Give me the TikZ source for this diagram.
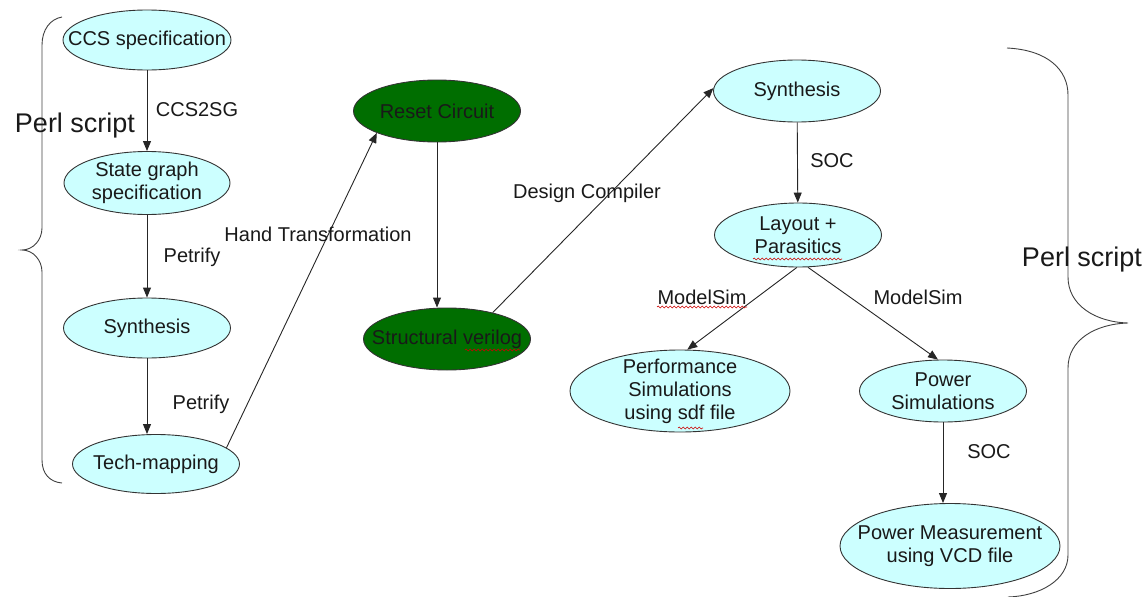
\documentclass[tikz,border=0pt]{standalone}
\usepackage{fontspec}
\setmainfont{Liberation Sans}
\usetikzlibrary{shapes.geometric,arrows.meta,decorations.pathmorphing}
\definecolor{nodecyan}{RGB}{204,255,255}
\definecolor{nodegreen}{RGB}{0,110,0}
\begin{document}
\begin{tikzpicture}[x=1pt,y=-1pt,
  ov/.style={ellipse, draw=black!80, line width=0.9pt, fill=nodecyan, inner sep=0pt,
             minimum width=167pt, minimum height=62pt},
  gov/.style={ov, fill=nodegreen},
  txt/.style={font=\fontsize{20}{23}\selectfont, align=center, inner sep=0pt, text=black!90},
  big/.style={font=\fontsize{27}{30}\selectfont, inner sep=0pt, text=black!90},
  arr/.style={draw=black!85, line width=0.9pt, -{Triangle[length=10pt,width=8pt]}},
  wavy/.style={red!80!black, line width=0.6pt, decorate,
               decoration={snake, amplitude=0.9pt, segment length=4pt}},
  brace/.style={draw=black!75, line width=0.9pt}
]
\useasboundingbox (0,0) rectangle (1146,597);

% left column: specification flow
\node[ov, minimum width=168pt, minimum height=60pt, label={[txt]center:CCS specification}] (ccs) at (147,40) {};
\node[ov, minimum width=166pt, minimum height=63pt, label={[txt]center:State graph\\specification}] (sg) at (147,183) {};
\node[ov, minimum height=60pt, label={[txt]center:Synthesis}] (syn1) at (147,328) {};
\node[ov, minimum height=59pt, label={[txt]center:Tech-mapping}] (tm) at (156,464) {};

% middle column
\node[gov, label={[txt]center:Reset Circuit}] (rc) at (437,111) {};
\node[gov, label={[txt]center:Structural verilog}] (sv) at (447,339) {};

% right column: back end flow
\node[ov, label={[txt]center:Synthesis}] (syn2) at (797,91) {};
\node[ov, minimum height=64pt, label={[txt]center:Layout +\\Parasitics}] (lay) at (798,235) {};
\node[ov, minimum width=220pt, minimum height=82pt, label={[txt]center:Performance\\Simulations\\using sdf file}] (perf) at (680,391) {};
\node[ov, label={[txt]center:Power\\Simulations}] (psim) at (943,391) {};
\node[ov, minimum width=220pt, minimum height=85pt, label={[txt]center:Power Measurement\\using VCD file}] (pmeas) at (950,546) {};

% connectors
\draw[arr] (ccs) -- (sg);
\draw[arr] (sg) -- (syn1);
\draw[arr] (syn1.south) -- (syn1.south |- tm.north);
\draw[arr] (tm.13) -- (rc.200);
\draw[arr] (rc.south) -- (rc.south |- sv.north);
\draw[arr] (sv.30) -- (syn2.178);
\draw[arr] (syn2) -- (lay);
\draw[arr] (lay.268) -- (perf.80);
\draw[arr] (lay.287) -- (psim.99);
\draw[arr] (psim.south) -- (psim.south |- pmeas.north);

% connector labels
\node[txt] (l1) at (197,110) {CCS2SG};
\node[txt] (l2) at (192,257) {Petrify};
\node[txt] (l3) at (201,404) {Petrify};
\node[txt] (l4) at (318,234) {Hand Transformation};
\node[txt] (l5) at (587,193) {Design Compiler};
\node[txt] (l6) at (832,161) {SOC};
\node[txt] (l7) at (702,297) {ModelSim};
\node[txt] (l8) at (918,297) {ModelSim};
\node[txt] (l9) at (989,452) {SOC};

% spell-check underlines
\draw[wavy] (465,350) -- (520,350);
\draw[wavy] (753,259) -- (842,259);
\draw[wavy] (657,307) -- (747,307);
\draw[wavy] (678,428) -- (703,428);

% braces
\draw[brace] (62,17) .. controls (50,19) and (42,30) .. (42,45) -- (42,228)
  .. controls (42,240) and (33,250) .. (22,250)
  .. controls (33,250) and (42,260) .. (42,272) -- (42,460)
  .. controls (42,474) and (50,482) .. (62,483);
\node[big] (perl1) at (75,126) {Perl script};

\draw[brace] (1007,48) .. controls (1048,50) and (1068,70) .. (1068,95) -- (1068,277)
  .. controls (1068,305) and (1095,322) .. (1128,323)
  .. controls (1095,324) and (1068,340) .. (1068,368) -- (1068,555)
  .. controls (1068,580) and (1040,596) .. (1008,597);
\node[big] (perl2) at (1082,260) {Perl script};
\end{tikzpicture}
\end{document}
